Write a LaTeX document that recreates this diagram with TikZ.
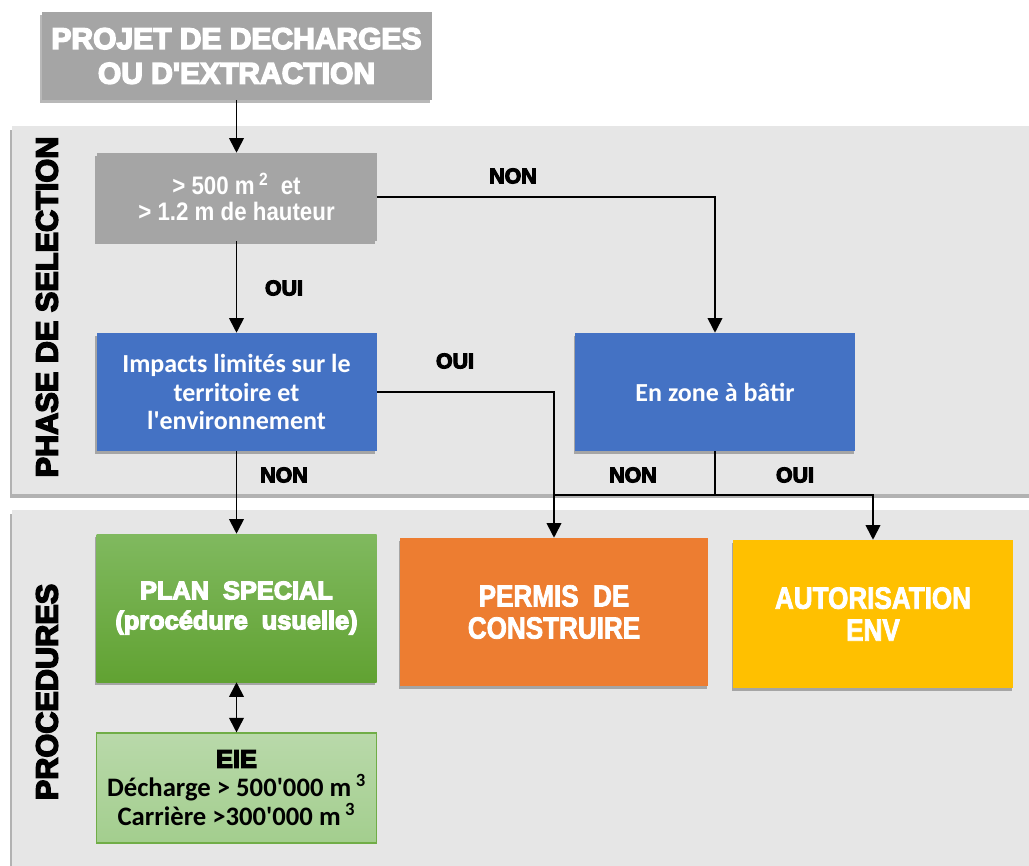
\documentclass[tikz,border=0pt]{standalone}
\usepackage{fontspec}
\usetikzlibrary{arrows.meta,shadows}
\setmainfont{Liberation Sans}
\newfontfamily\heavyfam{Liberation Sans}[BoldFeatures={FakeBold=5}]
\newfontfamily\narrowfam{Liberation Sans}[FakeStretch=0.85,BoldFeatures={FakeBold=2.5}]
\newfontfamily\critfam{Liberation Sans}[FakeStretch=0.88]
\newfontfamily\calfam{Carlito}
\definecolor{panel}{HTML}{E6E6E6}
\definecolor{boxgray}{HTML}{A5A5A5}
\definecolor{boxblue}{HTML}{4472C4}
\definecolor{boxorange}{HTML}{ED7D31}
\definecolor{boxyellow}{HTML}{FFC000}
\definecolor{greentop}{HTML}{80B95F}
\definecolor{greenbot}{HTML}{61A232}
\definecolor{eietop}{HTML}{B9D9AA}
\definecolor{eiebot}{HTML}{A3CE8E}
\definecolor{eieborder}{HTML}{70AD47}
\begin{document}
\begin{tikzpicture}[x=0.75pt,y=-0.75pt,
  shad/.style={drop shadow={shadow xshift=-0.8pt,shadow yshift=-2.2pt,opacity=0.28,fill=black}},
  pshad/.style={drop shadow={shadow xshift=-1.5pt,shadow yshift=-3pt,opacity=0.3,fill=black}},
  box/.style={shad,rectangle,inner sep=0pt,align=center,text=white},
  wbox/.style={box,minimum width=210pt},
  lab/.style={font=\heavyfam\bfseries\fontsize{16}{18}\selectfont,text=black,inner sep=0pt},
  vlab/.style={font=\heavyfam\bfseries\fontsize{23}{26}\selectfont,text=black,rotate=90,inner sep=0pt},
  arr/.style={line width=1.3pt,-{Triangle[length=11pt,width=11pt]}},
  arrboth/.style={line width=1.3pt,{Triangle[length=11pt,width=11pt]}-{Triangle[length=11pt,width=11pt]}},
  ln/.style={line width=1.3pt}]
\useasboundingbox (0,0) rectangle (1029,866);
\clip (0,0) rectangle (1029,866);
% panels
\path[fill=panel,pshad] (12,126) rectangle (1060,494);
\path[fill=panel,pshad] (12,510) rectangle (1060,900);
\node[vlab] (vsel) at (47,307) {PHASE DE SELECTION};
\node[vlab] (vproc) at (47,692) {PROCEDURES};
% boxes
\node[box,fill=boxgray,minimum width=292.5pt,minimum height=66pt,
      font=\heavyfam\bfseries\fontsize{22.5}{26}\selectfont] (top) at (236.5,56)
  {PROJET DE DECHARGES\\OU D'EXTRACTION};
\node[wbox,fill=boxgray,minimum height=66pt,
      font=\critfam\bfseries\fontsize{19}{19.5}\selectfont] (crit) at (236.5,197)
  {> 500 m\,\textsuperscript{2} \ et\\> 1.2 m de hauteur};
\node[wbox,fill=boxblue,minimum height=88.5pt,
      font=\calfam\bfseries\fontsize{19.5}{21.4}\selectfont] (imp) at (236.5,392)
  {Impacts limités sur le\\territoire et\\l'environnement};
\node[wbox,fill=boxblue,minimum height=88.5pt,
      font=\calfam\bfseries\fontsize{19.5}{21.4}\selectfont] (zone) at (715,392)
  {En zone à bâtir};
\node[wbox,top color=greentop,bottom color=greenbot,minimum height=111pt,
      font=\heavyfam\bfseries\fontsize{19}{22.5}\selectfont] (plan) at (236.5,608)
  {PLAN \ SPECIAL\\(procédure \ usuelle)};
\node[box,fill=boxorange,minimum width=231pt,minimum height=111pt,
      font=\narrowfam\bfseries\fontsize{23}{24}\selectfont] (permis) at (554,612)
  {PERMIS \ DE\\CONSTRUIRE};
\node[wbox,fill=boxyellow,minimum height=111pt,
      font=\narrowfam\bfseries\fontsize{23}{24}\selectfont] (auto) at (873,614)
  {AUTORISATION\\ENV};
\node[rectangle,inner sep=0pt,align=center,text=black,top color=eietop,bottom color=eiebot,
      draw=eieborder,line width=1.3pt,minimum width=210pt,minimum height=82pt,
      font=\calfam\bfseries\fontsize{20}{21.75}\selectfont] (eie) at (236.5,788)
  {{\heavyfam\fontsize{19}{21.75}\selectfont EIE}\\Décharge > 500'000 m\,\textsuperscript{3}\\Carrière >300'000 m\,\textsuperscript{3}};
% connectors
\draw[arr] (top.south) -- (crit.north);
\draw[arr] (crit.south) -- (imp.north);
\draw[arr] (crit.east) -| (zone.north);
\draw[arr] (imp.east) -| (permis.north);
\draw[arr] (imp.south) -- (plan.north);
\draw[ln] (zone.south) -- ++(0,44) coordinate (j);
\draw[arr] (j) -| (auto.north);
\draw[ln] (j) -- (j -| permis.north);
\draw[arrboth] (plan.south) -- (eie.north);
% labels
\node[lab] (l1) at (284,288) {OUI};
\node[lab] (l2) at (513,176) {NON};
\node[lab] (l3) at (455,361) {OUI};
\node[lab] (l4) at (284,475) {NON};
\node[lab] (l5) at (633,475) {NON};
\node[lab] (l6) at (795,475) {OUI};
\end{tikzpicture}
\end{document}
